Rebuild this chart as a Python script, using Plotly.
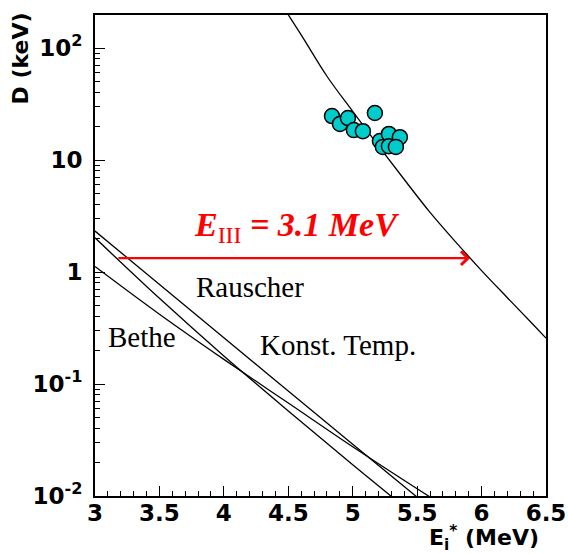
import math
import plotly.graph_objects as go

# ---- data ----
fit_E = [4.4, 4.6, 4.8, 5.0, 5.2, 5.4, 5.6, 5.8, 6.0, 6.2, 6.4, 6.5]
fit_D = [298, 131, 56, 27.2, 13.4, 6.7, 3.41, 1.85, 1.03, 0.59, 0.34, 0.257]

ct_E = [3.0, 4.0, 5.0, 5.6]                      # Konst. Temp.
ct_D = [2.32, 0.259, 0.029, 0.00785]

ra_E = [3.0, 3.5, 4.0, 4.5, 5.0, 5.5]            # Rauscher
ra_D = [2.02, 0.582, 0.178, 0.0575, 0.019, 0.00645]

be_E = [3.0, 3.5, 4.0, 4.5, 5.0, 5.5, 5.7]       # Bethe
be_D = [1.12, 0.42, 0.166, 0.0676, 0.0275, 0.0116, 0.0083]

pts_E = [4.839, 4.901, 4.963, 5.009, 5.079, 5.172, 5.211, 5.281, 5.366, 5.234, 5.281, 5.335]
pts_D = [24.7, 21.0, 23.7, 18.5, 18.1, 26.3, 14.8, 17.1, 16.0, 13.1, 13.3, 13.1]

arrow_E = [3.17, 5.91]
arrow_D = 1.33

labels = ["Rauscher", "Bethe", "Konst. Temp."]
label_E = [4.202, 3.365, 4.885]
label_D = [0.734, 0.263, 0.223]

y_tickvals = [0.01, 0.1, 1, 10, 100]
y_ticktext = ["10<sup>-2</sup>", "10<sup>-1</sup>", "1", "10", "10<sup>2</sup>"]
x_tickvals = [3, 3.5, 4, 4.5, 5, 5.5, 6, 6.5]
x_ticktext = ["3", "3.5", "4", "4.5", "5", "5.5", "6", "6.5"]

fig = go.Figure()
for ex, dy in [(fit_E, fit_D), (ct_E, ct_D), (ra_E, ra_D), (be_E, be_D)]:
    fig.add_trace(go.Scatter(x=ex, y=dy, mode="lines",
                             line=dict(color="black", width=1.3, shape="spline"),
                             showlegend=False, hoverinfo="skip"))

fig.add_trace(go.Scatter(x=pts_E, y=pts_D, mode="markers",
                         marker=dict(symbol="circle", size=15, color="#00cccc",
                                     line=dict(color="black", width=1.5)),
                         showlegend=False))

# red arrow (annotation coords on a log axis are log10 values)
la = math.log10(arrow_D)
fig.add_annotation(x=arrow_E[1], y=la, ax=arrow_E[0], ay=la,
                   xref="x", yref="y", axref="x", ayref="y",
                   showarrow=True, arrowhead=4, arrowsize=1.2, arrowwidth=2.2,
                   arrowcolor="red", text="")

fig.add_annotation(x=4.567, y=math.log10(2.5), xref="x", yref="y", showarrow=False,
                   text="<b><i>E</i></b><sub>III</sub><b><i> = 3.1 MeV</i></b>",
                   font=dict(family="Liberation Serif", size=34, color="red"))

serif = dict(family="Liberation Serif", size=29, color="black")
for t, ex, dy in zip(labels, label_E, label_D):
    fig.add_annotation(x=ex, y=math.log10(dy), text=t, showarrow=False, font=serif)

tfont = dict(family="DejaVu Sans", size=22, color="black", weight="bold")
fig.add_annotation(xref="paper", yref="paper", x=0.99, y=-0.087,
                   xanchor="right", yanchor="middle", showarrow=False,
                   text="E<sub>i</sub><sup>*</sup> (MeV)", font=tfont)
fig.add_annotation(xref="paper", yref="paper", x=-0.166, y=0.91,
                   xanchor="center", yanchor="middle", showarrow=False,
                   textangle=-90, text="D (keV)", font=tfont)

y_minor = [m * 10 ** d for d in range(-2, 3) for m in range(2, 10)]

fig.update_layout(
    width=568, height=554,
    margin=dict(l=95, r=22, t=15, b=58, autoexpand=False),
    paper_bgcolor="white", plot_bgcolor="white",
    xaxis=dict(range=[3, 6.5], tickvals=x_tickvals, ticktext=x_ticktext,
               ticks="inside", ticklen=10, tickwidth=1.2, tickcolor="black",
               minor=dict(dtick=0.1, tick0=3, ticks="inside", ticklen=5,
                          tickwidth=1.2, tickcolor="black", showgrid=False),
               showline=True, linecolor="black", linewidth=2, mirror=True,
               showgrid=False, zeroline=False, ticklabelstandoff=-5, automargin=False,
               tickfont=dict(family="DejaVu Sans", size=23, color="black", weight="bold")),
    yaxis=dict(type="log", range=[-2, 2.295], tickvals=y_tickvals, ticktext=y_ticktext,
               ticks="inside", ticklen=10, tickwidth=1.2, tickcolor="black",
               minor=dict(tickvals=y_minor, ticks="inside", ticklen=5,
                          tickwidth=1.2, tickcolor="black", showgrid=False),
               showline=True, linecolor="black", linewidth=2, mirror=True,
               showgrid=False, zeroline=False, ticklabelstandoff=6, automargin=False,
               tickfont=dict(family="DejaVu Sans", size=23, color="black", weight="bold")),
)

fig.write_html("out.html")
